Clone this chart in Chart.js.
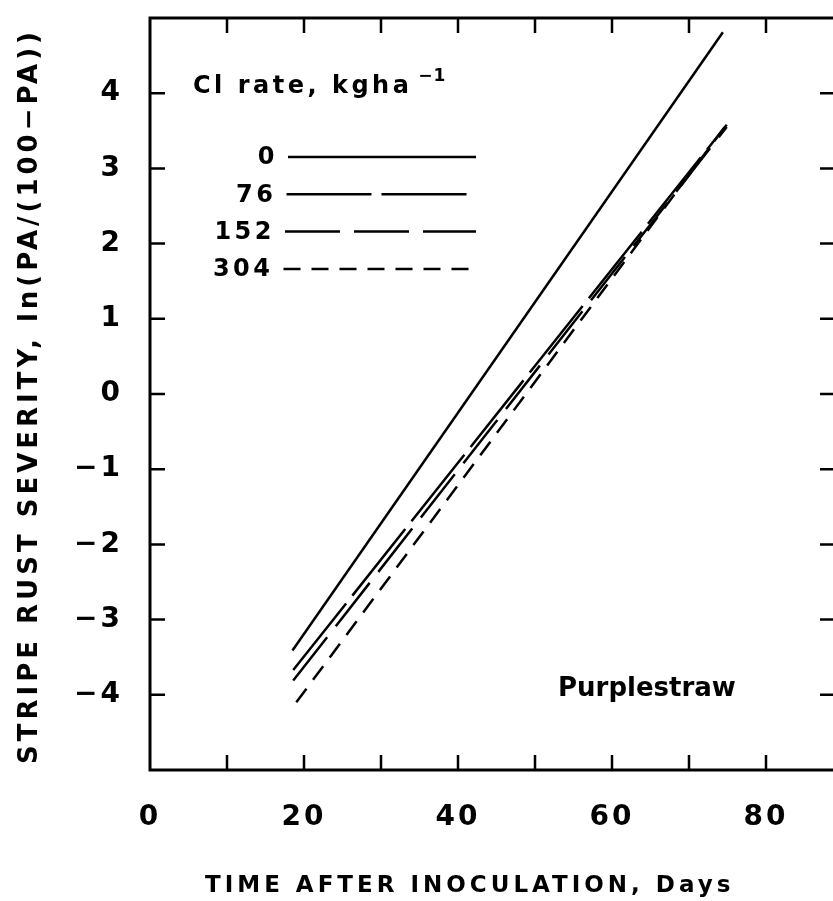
<!DOCTYPE html>
<html>
<head>
<meta charset="utf-8">
<script src="https://cdn.jsdelivr.net/npm/chart.js@4"></script>
<style>
html, body { margin: 0; padding: 0; background: #fff; overflow: hidden; }
#wrap { width: 833px; height: 901px; overflow: hidden; }
</style>
</head>
<body>
<div id="wrap"><canvas id="myChart" width="860" height="901"></canvas></div>
<script>
// Cl rate (kg/ha) and the fitted lines, start and end of each
const rates = ['0', '76', '152', '304']
const startDay = [18.5, 18.6, 18.6, 19.0]
const endDay = [74.4, 74.9, 74.9, 75.0]
const startSeverity = [-3.41, -3.67, -3.81, -4.10]
const endSeverity = [4.81, 3.58, 3.55, 3.60]

const xTicks = [0, 20, 40, 60, 80]
const xMarks = [10, 20, 30, 40, 50, 60, 70, 80]
const yTicks = [-4, -3, -2, -1, 0, 1, 2, 3, 4]

const dashes = [[], [85, 10], [55, 14], [17, 11]]
const FONT = "'DejaVu Sans', sans-serif"

function drawLegend(chart){
    const ctx = chart.ctx
    ctx.fillStyle = '#000'
    ctx.font = `bold 24px ${FONT}`
    ctx.letterSpacing = '3.5px'
    ctx.textAlign = 'left'
    ctx.textBaseline = 'alphabetic'
    const title = 'Cl rate, kgha'
    ctx.fillText(title, 193, 93)
    const w = ctx.measureText(title).width
    ctx.font = `bold 17px ${FONT}`
    ctx.letterSpacing = '1px'
    ctx.fillText('\u22121', 193 + w + 6, 81)

    ctx.font = `bold 24px ${FONT}`
    ctx.letterSpacing = '3.5px'
    ctx.textAlign = 'right'
    ctx.textBaseline = 'middle'
    chart.data.datasets.forEach((ds, i) => {
        const ly = 157 + i * 37.3
        const x0 = 288 - i * 1.5
        ctx.fillText(ds.label, x0 - 10, ly + 1)
        ctx.save()
        ctx.strokeStyle = '#000'
        ctx.lineWidth = 2.5
        ctx.setLineDash(ds.borderDash)
        ctx.beginPath()
        ctx.moveTo(x0, ly)
        ctx.lineTo(476, ly)
        ctx.stroke()
        ctx.restore()
    })
}

const frame = {
    id: 'frame',
    beforeDraw(chart){
        chart.ctx.letterSpacing = '3px'
    },
    afterDraw(chart){
        const {ctx, chartArea: a, scales: {x, y}} = chart
        ctx.save()
        ctx.strokeStyle = '#000'
        ctx.lineWidth = 3
        ctx.strokeRect(a.left, a.top, a.right - a.left, a.bottom - a.top)
        ctx.lineWidth = 2.5
        ctx.beginPath()
        xMarks.forEach(v => {
            const px = x.getPixelForValue(v)
            ctx.moveTo(px, a.bottom); ctx.lineTo(px, a.bottom - 15)
            ctx.moveTo(px, a.top); ctx.lineTo(px, a.top + 15)
        })
        yTicks.forEach(v => {
            const py = y.getPixelForValue(v)
            ctx.moveTo(a.left, py); ctx.lineTo(a.left + 15, py)
            ctx.moveTo(a.right, py); ctx.lineTo(a.right - 23, py)
        })
        ctx.stroke()

        // axis titles
        ctx.fillStyle = '#000'
        ctx.font = `bold 23px ${FONT}`
        ctx.letterSpacing = '4px'
        ctx.textAlign = 'left'
        ctx.textBaseline = 'alphabetic'
        ctx.fillText('TIME AFTER INOCULATION, Days', 205, 892)

        ctx.save()
        ctx.translate(37, 396)
        ctx.rotate(-Math.PI / 2)
        ctx.font = `bold 26px ${FONT}`
        ctx.letterSpacing = '4px'
        ctx.textAlign = 'center'
        ctx.fillText('STRIPE RUST SEVERITY, ln(PA/(100\u2212PA))', 0, 0)
        ctx.restore()

        ctx.font = `bold 26px ${FONT}`
        ctx.letterSpacing = '0px'
        ctx.fillText('Purplestraw', 558, 696)

        drawLegend(chart)
        ctx.restore()
    }
}

const ctx = document.getElementById('myChart')
new Chart(ctx, {
    type: 'scatter',
    data: {
        datasets: rates.map((r, i) => ({
            label: r,
            data: [
                {x: startDay[i], y: startSeverity[i]},
                {x: endDay[i], y: endSeverity[i]}
            ],
            showLine: true,
            borderColor: '#000',
            borderWidth: 2.5,
            borderDash: dashes[i],
            pointRadius: 0
        }))
    },
    options: {
        responsive: false,
        animation: false,
        devicePixelRatio: 1,
        layout: {padding: {top: 18, right: 17, left: 0, bottom: 0}},
        plugins: {legend: {display: false}, tooltip: {enabled: false}},
        scales: {
            x: {
                type: 'linear', min: 0, max: 90,
                grid: {display: false, drawTicks: false},
                border: {display: false},
                afterFit(s){ s.height = 131; s.paddingLeft = 0; s.paddingRight = 0 },
                afterBuildTicks(s){ s.ticks = xTicks.map(v => ({value: v})) },
                ticks: {
                    color: '#000', padding: 31, maxRotation: 0,
                    font: {family: FONT, weight: 'bold', size: 28}
                }
            },
            y: {
                type: 'linear', min: -5, max: 5,
                grid: {display: false, drawTicks: false},
                border: {display: false},
                afterFit(s){ s.width = 150; s.paddingTop = 0; s.paddingBottom = 0 },
                afterBuildTicks(s){ s.ticks = yTicks.map(v => ({value: v})) },
                ticks: {
                    color: '#000', padding: 27,
                    font: {family: FONT, weight: 'bold', size: 28},
                    callback: v => v < 0 ? '\u2212' + Math.abs(v) : String(v)
                }
            }
        }
    },
    plugins: [frame]
})
</script>
</body>
</html>
